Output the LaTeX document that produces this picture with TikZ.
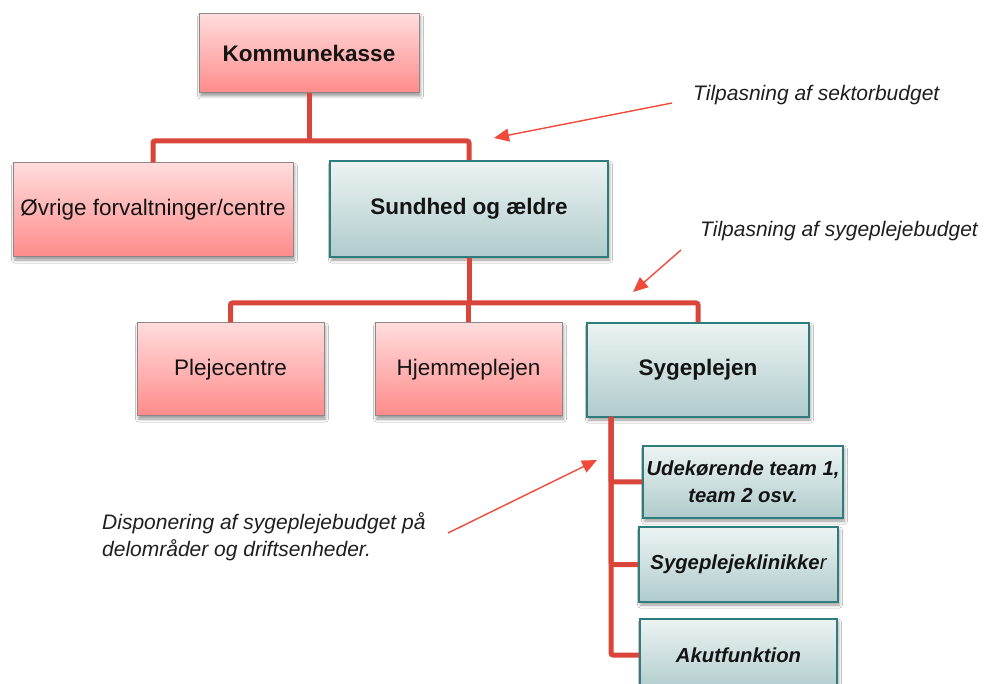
\documentclass[tikz,border=0pt]{standalone}
\usepackage{fontspec}
\setmainfont{Liberation Sans}
\usetikzlibrary{shadows.blur,arrows.meta}

\definecolor{pinktop}{HTML}{FFDCDC}
\definecolor{pinkbot}{HTML}{FF8B8B}
\definecolor{pinkline}{HTML}{8F8686}
\definecolor{tealtop}{HTML}{ECF3F3}
\definecolor{tealbot}{HTML}{B0CBCC}
\definecolor{tealline}{HTML}{2E7C7C}
\definecolor{linkred}{HTML}{D9453A}
\definecolor{arrowred}{HTML}{F04A3A}

\tikzset{
  box/.style={rectangle, inner sep=0pt, align=center, text=black!92,
    blur shadow={shadow xshift=1.5pt, shadow yshift=-3pt,
                 shadow blur radius=3pt, shadow opacity=40}},
  pinkbox/.style={box, draw=pinkline, line width=1pt,
    top color=pinktop, bottom color=pinkbot,
    font=\fontsize{22.5}{27}\selectfont},
  tealbox/.style={box, draw=tealline, line width=2pt,
    top color=tealtop, bottom color=tealbot,
    font=\bfseries\fontsize{22.5}{27}\selectfont},
  subbox/.style={tealbox, font=\bfseries\itshape\fontsize{20.3}{27}\selectfont},
  link/.style={draw=linkred, line width=5pt, rounded corners=2pt},
  note/.style={font=\itshape\fontsize{21}{27}\selectfont, inner sep=0pt,
    anchor=west, align=left, text=black!88},
  pointer/.style={draw=arrowred, line width=1.4pt,
    -{Triangle[length=15pt,width=13pt]}}
}

\begin{document}
\begin{tikzpicture}[x=1pt,y=-1pt]
  \useasboundingbox (0,0) rectangle (986,684);
  \fill[white] (0,0) rectangle (986,684);
  \clip (0,0) rectangle (986,684);

  % organisation boxes
  \node[pinkbox, font=\bfseries\fontsize{22.5}{27}\selectfont,
        minimum width=220pt, minimum height=79pt] (kasse) at (309,53.5) {Kommunekasse};
  \node[pinkbox, minimum width=280pt, minimum height=94pt] (oevrige) at (153,210) {Øvrige forvaltninger/centre};
  \node[tealbox, minimum width=278pt, minimum height=96pt] (sund) at (469,209) {Sundhed og ældre};

  \node[pinkbox, minimum width=187pt, minimum height=93pt] (pleje) at (230.5,369.5) {Plejecentre};
  \node[pinkbox, minimum width=187pt, minimum height=93pt] (hjem) at (468.5,369.5) {Hjemmeplejen};
  \node[tealbox, minimum width=222pt, minimum height=94pt] (syg) at (698,370) {Sygeplejen};

  \node[subbox, minimum width=200pt, minimum height=72pt] (ude) at (743,482) {Udekørende team 1,\\team 2 osv.};
  \node[subbox, minimum width=199pt, minimum height=75pt] (klin) at (738.5,564.5) {Sygeplejeklinikke{\mdseries r}};
  \node[subbox, minimum width=197pt, minimum height=72pt] (akut) at (738.5,655) {Akutfunktion};

  % junction points of the tree
  \coordinate (j1) at (310,141);
  \coordinate (j2) at (468,303);
  \coordinate (j3) at (611,417);

  % connectors
  \draw[link] (kasse.south) -- (kasse.south |- j1);
  \draw[link] (oevrige.north) |- (sund.north |- j1) -- (sund.north);
  \draw[link] (sund.south) -- (sund.south |- j2);
  \draw[link] (pleje.north) |- (syg.north |- j2) -- (syg.north);
  \draw[link] (hjem.north) -- (hjem.north |- j2);
  \draw[link] (j3) |- (ude.west);
  \draw[link] (j3) |- (klin.west);
  \draw[link] (j3) |- (akut.west);

  % annotations
  \node[note] (n1) at (693,95) {Tilpasning af sektorbudget};
  \node[note] (n2) at (700,231) {Tilpasning af sygeplejebudget};
  \node[note] (n3) at (102,537) {Disponering af sygeplejebudget på\\delområder og driftsenheder.};

  \coordinate (a1s) at (672,103);
  \coordinate (a1e) at (494,138);
  \coordinate (a2s) at (681,250);
  \coordinate (a2e) at (633,292);
  \coordinate (a3s) at (448,533);
  \coordinate (a3e) at (597,460);
  \draw[pointer] (a1s) -- (a1e);
  \draw[pointer] (a2s) -- (a2e);
  \draw[pointer] (a3s) -- (a3e);
\end{tikzpicture}
\end{document}
